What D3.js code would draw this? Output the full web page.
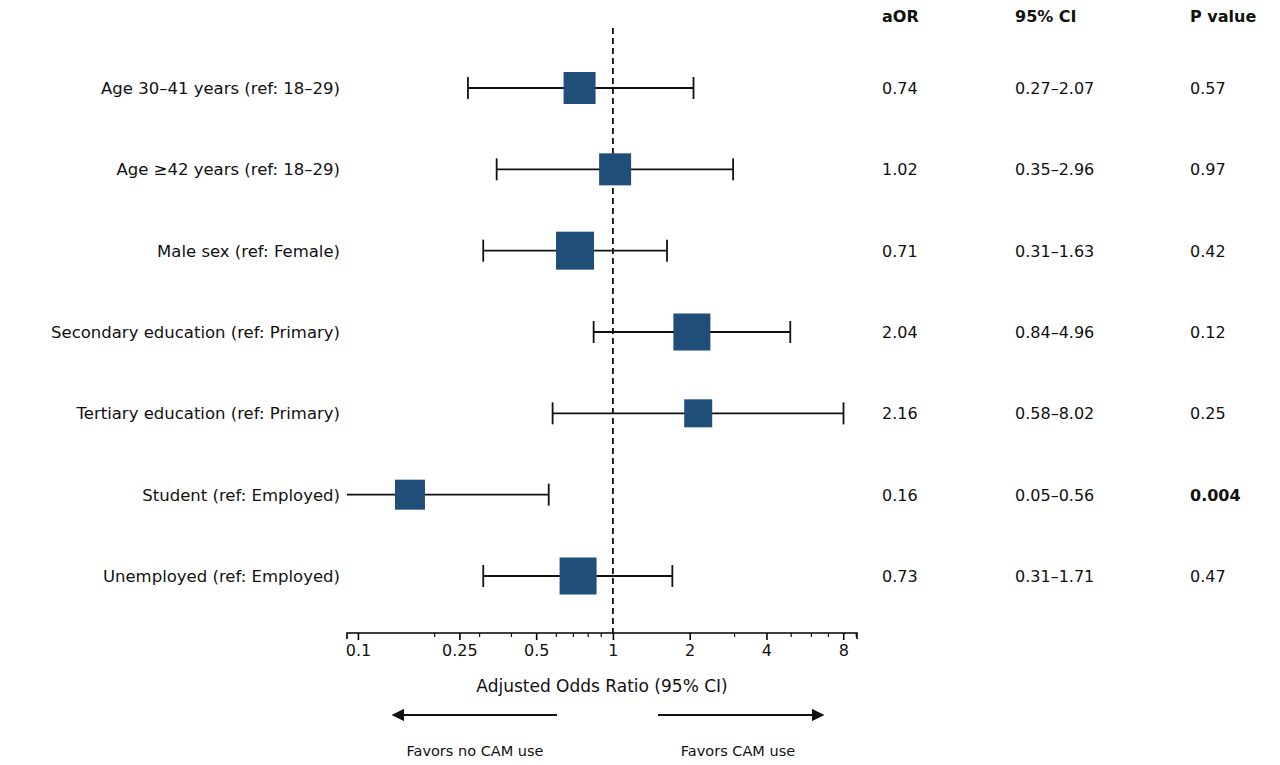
<!DOCTYPE html>
<html><head><meta charset="utf-8">
<script src="https://cdn.jsdelivr.net/npm/d3@7"></script>
<style>body{margin:0;background:#fff}text{font-family:"DejaVu Sans",sans-serif;fill:#111}</style>
</head><body>
<svg id="c" width="1280" height="765"></svg>
<script>
var labels = ["Age 30\u201341 years (ref: 18\u201329)","Age \u226542 years (ref: 18\u201329)","Male sex (ref: Female)",
  "Secondary education (ref: Primary)","Tertiary education (ref: Primary)","Student (ref: Employed)","Unemployed (ref: Employed)"];
var aor   = [0.74, 1.02, 0.71, 2.04, 2.16, 0.16, 0.73];
var lower = [0.27, 0.35, 0.31, 0.84, 0.58, 0.05, 0.31];
var upper = [2.07, 2.96, 1.63, 4.96, 8.02, 0.56, 1.71];
var pvals = ["0.57","0.97","0.42","0.12","0.25","0.004","0.47"];
var weights = [32, 32, 38, 37, 28, 30, 37]; // marker size (px)
var tickVals = [0.1, 0.25, 0.5, 1, 2, 4, 8];

var svg = d3.select("#c");
var x = d3.scaleLog().domain([0.0906, 9.06]).range([347, 857]);
var y = d3.scalePoint().domain(d3.range(labels.length)).range([88, 576]);
var col = "#1f4e79";

// reference line
svg.append("line").attr("x1", x(1)).attr("x2", x(1)).attr("y1", 28).attr("y2", 633)
  .attr("stroke", "#111").attr("stroke-width", 1.8).attr("stroke-dasharray", "6,4");

var g = svg.selectAll("g.row").data(labels).enter().append("g");
g.each(function(d, i) {
  var s = d3.select(this), yy = y(i);
  var x0 = x(Math.max(lower[i], x.domain()[0])), x1 = x(Math.min(upper[i], x.domain()[1]));
  s.append("line").attr("x1", x0).attr("x2", x1).attr("y1", yy).attr("y2", yy).attr("stroke", "#111").attr("stroke-width", 1.8);
  [[lower[i], x0], [upper[i], x1]].forEach(function(p) {
    if (p[0] >= x.domain()[0] && p[0] <= x.domain()[1])
      s.append("line").attr("x1", p[1]).attr("x2", p[1]).attr("y1", yy - 11).attr("y2", yy + 11).attr("stroke", "#111").attr("stroke-width", 1.8);
  });
  var w = weights[i];
  s.append("rect").attr("x", x(aor[i]) - w / 2).attr("y", yy - w / 2).attr("width", w).attr("height", w).attr("fill", col);
  s.append("text").attr("x", 340).attr("y", yy + 6).attr("text-anchor", "end").attr("font-size", 16.5).text(d);
  s.append("text").attr("x", 882).attr("y", yy + 6).attr("font-size", 16).text(aor[i].toFixed(2));
  s.append("text").attr("x", 1015).attr("y", yy + 6).attr("font-size", 16).text(lower[i].toFixed(2) + "\u2013" + upper[i].toFixed(2));
  s.append("text").attr("x", 1190).attr("y", yy + 6).attr("font-size", 16)
    .attr("font-weight", +pvals[i] < 0.05 ? "bold" : "normal").text(pvals[i]);
});

// headers
[["aOR", 882], ["95% CI", 1015], ["P value", 1190]].forEach(function(h) {
  svg.append("text").attr("x", h[1]).attr("y", 22).attr("font-size", 16).attr("font-weight", "bold").text(h[0]);
});

// axis
var minor = [0.2,0.3,0.4,0.6,0.7,0.8,0.9,3,5,6,7,9];
var ax = svg.append("g").attr("transform", "translate(0,633)");
ax.call(d3.axisBottom(x).tickValues(tickVals).tickFormat(function(d){return String(d);}).tickSize(7).tickPadding(5));
ax.selectAll(".tick").filter(function(d){return false;});
ax.select(".domain").attr("stroke-width", 1.6).attr("d", "M347,6V0H857V6");
ax.selectAll(".tick line").attr("stroke-width", 1.6);
ax.selectAll(".tick text").attr("font-size", 16).style("font-family", "DejaVu Sans");
ax.selectAll("line.mn").data(minor).enter().append("line").attr("class", "mn")
  .attr("x1", x).attr("x2", x).attr("y1", 0).attr("y2", 4).attr("stroke", "#111").attr("stroke-width", 1.2);
svg.append("text").attr("x", 602).attr("y", 692).attr("text-anchor", "middle").attr("font-size", 17).text("Adjusted Odds Ratio (95% CI)");

// direction arrows
var defs = svg.append("defs");
defs.append("marker").attr("id", "ah").attr("viewBox", "0 0 10 10").attr("refX", 9).attr("refY", 5)
  .attr("markerWidth", 7).attr("markerHeight", 7).attr("orient", "auto-start-reverse")
  .append("path").attr("d", "M0,0L10,5L0,10z").attr("fill", "#111");
svg.append("line").attr("x1", 557).attr("x2", 393).attr("y1", 715).attr("y2", 715).attr("stroke", "#111").attr("stroke-width", 1.8).attr("marker-end", "url(#ah)");
svg.append("line").attr("x1", 658).attr("x2", 823).attr("y1", 715).attr("y2", 715).attr("stroke", "#111").attr("stroke-width", 1.8).attr("marker-end", "url(#ah)");
svg.append("text").attr("x", 475).attr("y", 756).attr("text-anchor", "middle").attr("font-size", 14.5).text("Favors no CAM use");
svg.append("text").attr("x", 738).attr("y", 756).attr("text-anchor", "middle").attr("font-size", 14.5).text("Favors CAM use");
</script>
</body></html>
